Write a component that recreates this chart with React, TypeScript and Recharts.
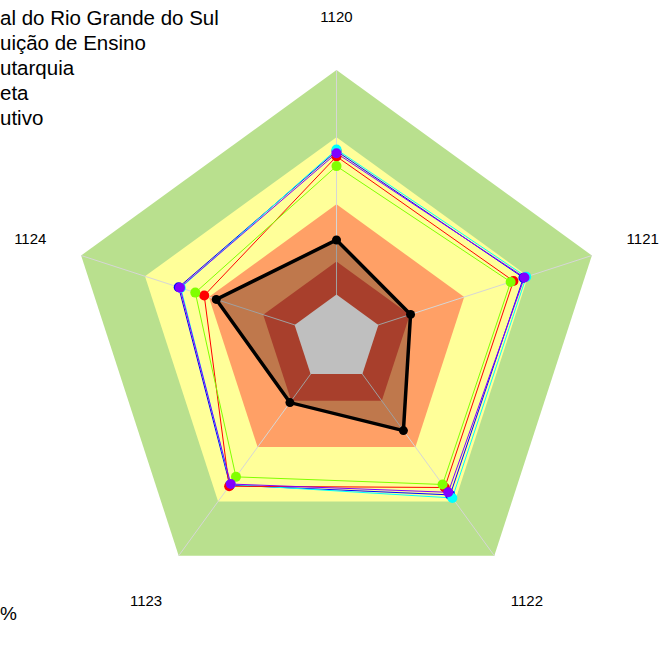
import React from "react";
import {
  PolarAngleAxis,
  PolarGrid,
  PolarRadiusAxis,
  Radar,
  RadarChart,
} from "recharts";

const categories = ["1120", "1121", "1122", "1123", "1124"];

// background bands (percent)
const bandGreen = [100, 100, 100, 100, 100];
const bandYellow = [75, 75, 75, 75, 75];
const bandOrange = [50, 50, 50, 50, 50];
const bandRed = [28.7, 28.7, 28.7, 28.7, 28.7];
const bandCenter = [16.4, 16.4, 16.4, 16.4, 16.4];

const blueValues = [69.8, 73.2, 72.0, 67.5, 61.8];
const cyanValues = [70.4, 74.3, 73.4, 67.2, 61.0];
const redValues = [67.8, 69.3, 68.6, 68.0, 51.8];
const greenValues = [64.2, 68.2, 67.2, 63.7, 55.3];
const purpleValues = [69.0, 73.6, 70.8, 67.0, 61.3];
const blackValues = [36.7, 29.0, 42.4, 29.5, 47.1];

const legendLabels = [
  "al do Rio Grande do Sul",
  "uição de Ensino",
  "utarquia",
  "eta",
  "utivo",
];

const CX = 336.5;
const CY = 338.5;
const OUTER = 268.5;

const data = categories.map((axis, i) => ({
  axis,
  bandGreen: bandGreen[i],
  bandYellow: bandYellow[i],
  bandOrange: bandOrange[i],
  bandRed: bandRed[i],
  bandCenter: bandCenter[i],
  blue: blueValues[i],
  cyan: cyanValues[i],
  red: redValues[i],
  green: greenValues[i],
  purple: purpleValues[i],
  black: blackValues[i],
}));

function AngleTick(props: any) {
  const { x, y, payload } = props;
  const dx = x - CX;
  const dy = y - CY;
  const len = Math.hypot(dx, dy) || 1;
  const r = dy > 50 ? 324 : 322;
  return (
    <text
      x={CX + (dx / len) * r}
      y={CY + (dy / len) * r}
      textAnchor="middle"
      dominantBaseline="central"
      fontSize={15}
      fontFamily="'Liberation Sans', Arial, sans-serif"
      fill="#000"
    >
      {payload.value}
    </text>
  );
}

const lines = [
  { key: "blue", color: "#0000ff" },
  { key: "cyan", color: "#00ffff" },
  { key: "red", color: "#ff0000" },
  { key: "green", color: "#80ff00" },
  { key: "purple", color: "#8000ff" },
];

const layer: React.CSSProperties = { position: "absolute", left: 0, top: 0 };

export default function App() {
  return (
    <div
      style={{
        position: "absolute",
        left: 0,
        top: 0,
        width: 662,
        height: 666,
        overflow: "hidden",
        background: "#fff",
        fontFamily: "'Liberation Sans', Arial, sans-serif",
      }}
    >
      {/* bands underneath */}
      <div style={layer}>
        <RadarChart width={662} height={666} data={data} cx={CX} cy={CY} outerRadius={OUTER}
          margin={{ top: 0, right: 0, bottom: 0, left: 0 }}>
          <PolarRadiusAxis domain={[0, 100]} tick={false} axisLine={false} />
          <PolarAngleAxis dataKey="axis" tick={false} tickLine={false} axisLine={false} />
          <Radar dataKey="bandGreen" stroke="none" fill="#b9e08e" fillOpacity={1} dot={false} isAnimationActive={false} />
          <Radar dataKey="bandYellow" stroke="none" fill="#ffff99" fillOpacity={1} dot={false} isAnimationActive={false} />
          <Radar dataKey="bandOrange" stroke="none" fill="#ffa066" fillOpacity={1} dot={false} isAnimationActive={false} />
          <Radar dataKey="bandRed" stroke="none" fill="#e0553b" fillOpacity={1} dot={false} isAnimationActive={false} />
        </RadarChart>
      </div>
      {/* grid, centre and series on top */}
      <div style={layer}>
        <RadarChart width={662} height={666} data={data} cx={CX} cy={CY} outerRadius={OUTER}
          margin={{ top: 0, right: 0, bottom: 0, left: 0 }}>
          <PolarGrid gridType="polygon" polarRadius={[0]} stroke="#d6d6d6" strokeWidth={1} />
          <PolarRadiusAxis domain={[0, 100]} tick={false} axisLine={false} />
          <PolarAngleAxis dataKey="axis" tick={<AngleTick />} tickLine={false} axisLine={false} />
          <Radar dataKey="bandCenter" stroke="none" fill="#ffffff" fillOpacity={1} dot={false} isAnimationActive={false} />
          {lines.map((l) => (
            <Radar
              key={l.key}
              dataKey={l.key}
              stroke={l.color}
              strokeWidth={1}
              fill="none"
              fillOpacity={0}
              dot={{ r: 5, fill: l.color, stroke: l.color, strokeWidth: 0, fillOpacity: 1 }}
              isAnimationActive={false}
            />
          ))}
          <Radar
            dataKey="black"
            stroke="#000"
            strokeWidth={3.5}
            fill="#000"
            fillOpacity={0.25}
            dot={{ r: 4.5, fill: "#000", stroke: "#000", strokeWidth: 0, fillOpacity: 1 }}
            isAnimationActive={false}
          />
        </RadarChart>
      </div>
      <div style={{ position: "absolute", left: 0, top: 4.5, fontSize: 20.5, lineHeight: "25px", color: "#000", whiteSpace: "nowrap" }}>
        {legendLabels.map((t) => (
          <div key={t}>{t}</div>
        ))}
      </div>
      <div style={{ position: "absolute", left: 0, top: 601, fontSize: 19, lineHeight: "25px", color: "#000" }}>%</div>
    </div>
  );
}
